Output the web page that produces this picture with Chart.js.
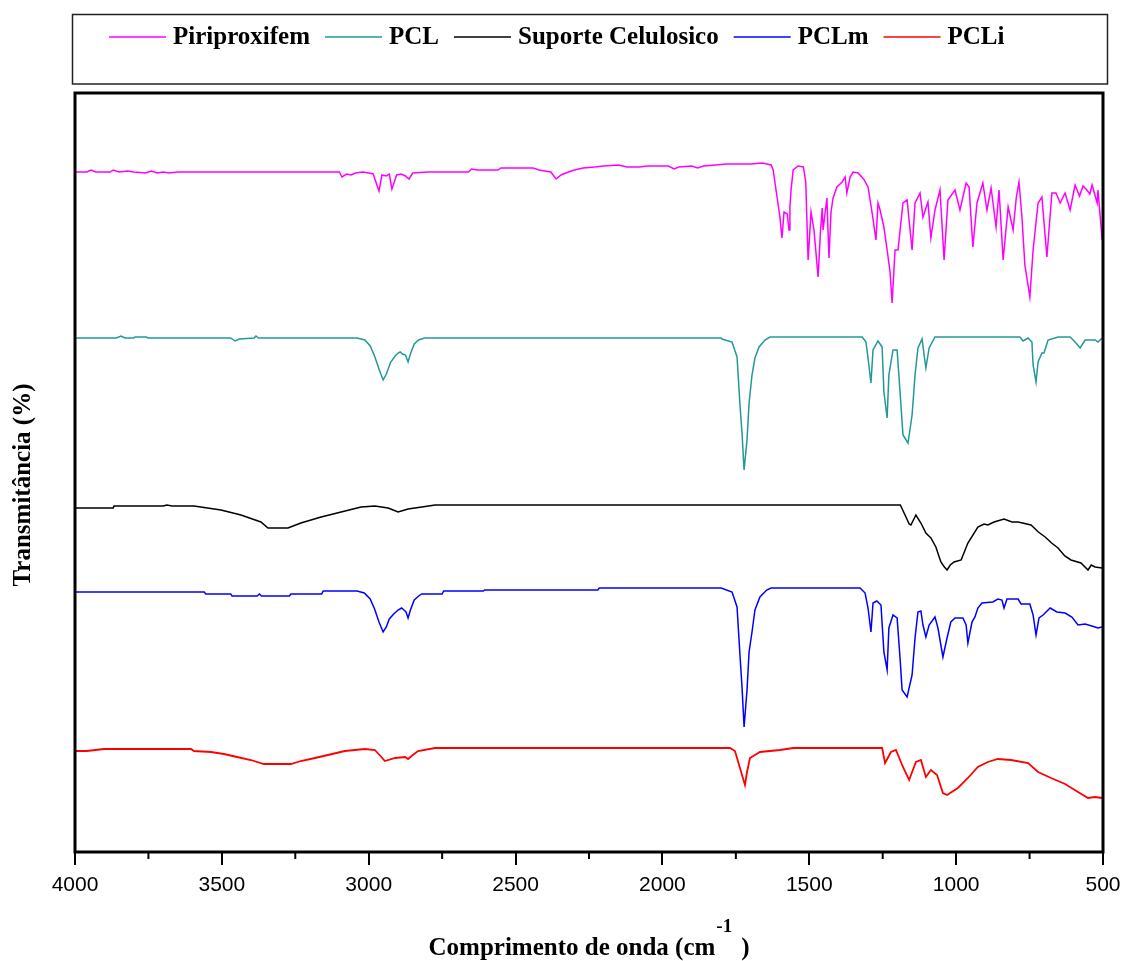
<!DOCTYPE html>
<html lang="pt">
<head>
<meta charset="UTF-8">
<title>Espectros FTIR</title>
<script src="https://cdn.jsdelivr.net/npm/chart.js"></script>
<style>
    body { margin: 0; background: #fff; }
    #wrap { width: 1125px; height: 961px; }
</style>
</head>
<body>
<div id="wrap"><canvas id="ftir" width="1125" height="961"></canvas></div>
<script>
// Wavenumber (cm-1) and transmittance (offset, arbitrary units) for each spectrum
const piriWn = [4000,3960,3945,3930,3880,3870,3850,3820,3800,3760,3740,3720,3700,3680,3650,3100,3091,3075,3060,3045,3020,3000,2985,2965,2955,2940,2930,2921,2905,2890,2875,2863,2850,2800,2700,2660,2650,2630,2560,2550,2440,2420,2380,2362,2345,2320,2300,2270,2230,2200,2150,2120,2080,2050,1980,1960,1945,1900,1880,1860,1820,1780,1740,1700,1660,1630,1623,1600,1593,1586,1575,1569,1566,1562,1555,1538,1520,1512,1504,1494,1484,1470,1462,1456,1453,1440,1433,1426,1419,1406,1388,1378,1372,1361,1351,1334,1315,1300,1286,1273,1266,1259,1246,1235,1225,1218,1208,1198,1181,1167,1150,1140,1123,1113,1096,1086,1072,1055,1041,1028,1004,987,966,956,943,929,909,895,881,864,854,840,823,806,795,786,776,766,749,738,721,708,691,674,660,646,629,612,595,580,568,555,545,537,520,517,503,500];
const piriT = [68.0,68.0,68.2,68.0,68.0,68.2,68.0,68.1,68.0,67.9,68.1,67.9,68.0,67.9,68.0,68.0,67.5,67.8,67.7,67.9,68.0,67.9,67.8,66.1,67.7,67.6,67.8,66.3,67.7,67.8,67.6,67.3,67.9,68.0,68.0,68.0,68.3,68.2,68.2,68.4,68.4,68.2,68.0,67.3,67.7,68.0,68.2,68.4,68.5,68.6,68.7,68.5,68.5,68.6,68.6,68.3,68.5,68.6,68.4,68.6,68.7,68.8,68.8,68.8,68.9,68.7,68.2,63.5,61.4,64.0,63.8,62.2,64.5,66.2,68.2,68.6,68.5,67.0,59.2,64.0,62.2,57.5,62.0,64.4,62.2,65.4,59.4,64.0,65.4,66.5,67.0,67.5,65.9,67.5,68.0,67.9,67.3,66.5,63.9,61.2,64.9,64.2,62.5,60.2,58.0,54.9,60.2,60.2,64.9,65.2,60.2,64.9,65.9,63.5,65.0,61.4,64.2,66.2,59.2,65.2,66.2,64.2,66.9,66.5,60.5,64.9,66.9,64.2,66.4,62.5,66.2,59.2,64.5,62.2,65.5,67.0,63.5,58.7,55.5,60.2,64.9,65.5,59.5,65.9,65.9,64.9,65.9,64.2,66.7,65.6,66.6,66.2,65.8,66.7,64.9,66.2,61.2,62.0];

const pclWn = [4000,3860,3843,3830,3800,3796,3758,3750,3470,3455,3440,3390,3384,3375,3040,3013,2995,2980,2965,2951,2940,2925,2910,2900,2893,2885,2875,2866,2858,2845,2830,2810,1800,1797,1763,1746,1736,1729,1722,1712,1705,1695,1685,1671,1651,1634,1320,1307,1300,1290,1283,1266,1252,1246,1235,1229,1215,1201,1191,1181,1164,1150,1140,1130,1116,1109,1103,1092,1072,783,772,755,742,738,728,721,708,701,687,653,612,595,578,561,527,517,503,500];
const pclT = [51.4,51.4,51.6,51.4,51.4,51.5,51.5,51.4,51.4,51.1,51.3,51.4,51.6,51.4,51.4,51.2,50.6,49.6,48.3,47.2,47.8,49.0,49.6,49.9,50.0,49.8,49.7,49.0,49.8,50.8,51.2,51.4,51.4,51.3,51.0,49.5,44.7,41.9,38.2,41.2,44.9,47.7,49.4,50.5,51.2,51.5,51.5,51.0,49.4,46.9,50.2,51.1,50.5,46.0,43.4,47.7,50.2,50.2,46.0,41.7,40.9,43.7,47.7,50.4,51.3,49.7,48.4,50.4,51.5,51.5,51.1,51.4,51.0,48.7,47.0,49.0,49.9,49.9,51.2,51.5,51.5,51.0,50.4,51.2,51.2,51.0,51.4,51.4];

const celWn = [4000,3870,3867,3700,3687,3670,3595,3503,3435,3367,3343,3275,3231,3162,3094,3026,2979,2934,2900,2866,2819,2774,1190,1174,1160,1154,1137,1120,1103,1086,1069,1052,1040,1031,1020,1007,983,960,926,905,892,871,837,810,789,745,720,697,675,653,630,609,575,551,540,527,503,500];
const celT = [34.4,34.4,34.6,34.6,34.7,34.6,34.6,34.2,33.7,33.0,32.4,32.4,32.9,33.5,34.0,34.5,34.6,34.4,34.0,34.3,34.5,34.7,34.7,33.7,32.8,32.7,33.7,32.9,31.9,31.4,30.5,29.0,28.5,28.2,28.7,29.0,29.2,30.9,32.5,32.8,32.7,33.0,33.3,33.0,33.0,32.7,32.0,31.5,30.9,30.4,29.6,29.2,28.9,28.2,28.7,28.5,28.4,28.4];

const pclmWn = [4000,3560,3555,3470,3465,3380,3372,3365,3270,3265,3160,3155,3040,3015,2995,2980,2965,2951,2940,2930,2915,2900,2888,2880,2873,2866,2858,2845,2830,2820,2750,2745,2610,2605,2220,2215,1800,1763,1746,1736,1729,1722,1712,1705,1695,1685,1668,1645,1630,1327,1310,1300,1290,1283,1270,1256,1246,1235,1229,1215,1201,1191,1184,1167,1150,1140,1130,1120,1113,1103,1092,1072,1062,1045,1031,1018,1004,977,966,960,946,936,926,912,875,858,844,837,827,789,779,749,738,728,718,704,680,657,629,606,585,561,527,517,503,500];
const pclmT = [26.0,26.0,25.8,25.8,25.6,25.6,25.8,25.6,25.6,25.8,25.8,26.1,26.1,25.9,25.3,24.3,23.0,22.0,22.5,23.3,23.8,24.2,24.4,24.2,24.0,23.4,24.2,25.2,25.6,25.8,25.8,26.1,26.1,26.2,26.2,26.4,26.4,26.0,24.5,19.7,16.5,12.5,16.2,20.0,22.0,24.2,25.5,26.2,26.4,26.4,25.9,24.4,22.0,24.9,25.1,24.7,20.0,18.2,22.4,23.7,23.4,19.4,16.2,15.5,17.7,21.4,24.0,24.1,22.7,21.5,22.7,23.5,22.4,19.5,21.4,23.0,23.4,23.4,22.7,20.9,23.0,23.5,24.4,24.9,25.0,25.3,25.2,24.4,25.3,25.3,24.8,24.8,23.7,21.7,23.4,23.7,24.4,24.0,23.9,23.5,22.7,22.8,22.5,22.4,22.5,22.5];

const pcliWn = [4000,3960,3901,3605,3595,3537,3493,3448,3401,3357,3265,3231,3183,3139,3081,3013,2979,2960,2945,2910,2876,2866,2850,2832,2774,1770,1753,1736,1719,1712,1702,1668,1600,1555,1252,1242,1222,1205,1181,1160,1137,1120,1103,1086,1065,1045,1031,994,960,926,892,858,813,755,721,677,629,585,551,527,503,500];
const pcliT = [10.1,10.1,10.3,10.3,10.1,10.0,9.8,9.5,9.2,8.8,8.8,9.1,9.4,9.7,10.1,10.3,10.2,9.6,9.1,9.4,9.5,9.3,9.7,10.1,10.4,10.4,10.1,8.4,6.7,8.0,9.4,10.0,10.2,10.4,10.4,8.9,10.0,10.2,8.5,7.2,9.0,9.2,7.5,8.2,7.7,5.9,5.7,6.4,7.4,8.5,9.0,9.3,9.2,8.9,8.0,7.4,6.8,6.0,5.4,5.5,5.4,5.4];

const seriesNames = ['Piriproxifem', 'PCL', 'Suporte Celulosico', 'PCLm', 'PCLi'];
const seriesColors = ['#ff00ff', '#1f9a97', '#000000', '#0000ff', '#ff0000'];
const xMajor = [4000, 3500, 3000, 2500, 2000, 1500, 1000, 500];

const serif = '"Liberation Serif", "Times New Roman", serif';

function toPoints(wn, t) {
    return wn.map((w, i) => ({ x: w, y: t[i] }));
}

const spectra = [[piriWn, piriT], [pclWn, pclT], [celWn, celT], [pclmWn, pclmT], [pcliWn, pcliT]];

const datasets = spectra.map((s, i) => ({
    label: seriesNames[i],
    data: toPoints(s[0], s[1]),
    borderColor: seriesColors[i],
    borderWidth: i === 4 ? 1.8 : 1.5,
    pointRadius: 0,
    fill: false,
    tension: 0
}));

// frame, minor ticks, axis titles and the boxed legend
const decor = {
    id: 'decor',
    afterDraw(chart) {
        const ctx = chart.ctx;
        const a = chart.chartArea;
        const x = chart.scales.x;
        ctx.save();

        ctx.strokeStyle = '#000';
        ctx.lineWidth = 2;
        for (let i = 0; i < xMajor.length - 1; i++) {
            const px = x.getPixelForValue((xMajor[i] + xMajor[i + 1]) / 2);
            ctx.beginPath();
            ctx.moveTo(px, a.bottom);
            ctx.lineTo(px, a.bottom + 7);
            ctx.stroke();
        }

        ctx.lineWidth = 3;
        ctx.strokeRect(a.left, a.top, a.right - a.left, a.bottom - a.top);

        // x title with superscript
        ctx.fillStyle = '#000';
        ctx.textBaseline = 'alphabetic';
        ctx.textAlign = 'left';
        const main = 'Comprimento de onda (cm';
        const big = 'bold 25px ' + serif;
        const small = 'bold 19px ' + serif;
        ctx.font = big;
        const w1 = ctx.measureText(main).width;
        const w3 = ctx.measureText(')').width;
        ctx.font = small;
        const w2 = ctx.measureText('-1').width;
        const total = w1 + 1 + w2 + 9 + w3;
        let tx = (a.left + a.right) / 2 - total / 2;
        ctx.font = big;
        ctx.fillText(main, tx, 955);
        ctx.font = small;
        ctx.fillText('-1', tx + w1 + 1, 932);
        ctx.font = big;
        ctx.fillText(')', tx + w1 + 1 + w2 + 9, 955);

        // y title
        ctx.save();
        ctx.translate(30, 485);
        ctx.rotate(-Math.PI / 2);
        ctx.textAlign = 'center';
        ctx.font = big;
        ctx.fillText('Transmitância (%)', 0, 0);
        ctx.restore();

        // legend
        ctx.lineWidth = 1.5;
        ctx.strokeStyle = '#222';
        ctx.strokeRect(72.5, 14.5, 1035, 69.5);
        ctx.font = big;
        let lx = 109;
        chart.data.datasets.forEach(ds => {
            ctx.strokeStyle = ds.borderColor;
            ctx.lineWidth = 1.5;
            ctx.beginPath();
            ctx.moveTo(lx, 37);
            ctx.lineTo(lx + 57, 37);
            ctx.stroke();
            ctx.fillStyle = '#000';
            ctx.fillText(ds.label, lx + 64, 44);
            lx += 64 + ctx.measureText(ds.label).width + 15;
        });

        ctx.restore();
    }
};

new Chart(document.getElementById('ftir'), {
    type: 'line',
    data: { datasets: datasets },
    options: {
        responsive: false,
        animation: false,
        layout: { padding: { left: 75, right: 22, top: 93, bottom: 0 } },
        plugins: {
            legend: { display: false },
            tooltip: { enabled: false }
        },
        scales: {
            x: {
                type: 'linear',
                reverse: true,
                min: 500,
                max: 4000,
                afterFit: s => {
                    s.height = 109;
                    s.paddingLeft = 0;
                    s.paddingRight = 0;
                },
                border: { display: false },
                grid: { drawOnChartArea: false, drawTicks: true, tickLength: 13, color: '#000', lineWidth: 2 },
                ticks: {
                    stepSize: 500,
                    autoSkip: false,
                    maxRotation: 0,
                    padding: 8,
                    color: '#000',
                    font: { family: '"Liberation Sans", Arial, sans-serif', size: 21 },
                    callback: v => String(v)
                }
            },
            y: { display: false, min: 0, max: 75.9 }
        }
    },
    plugins: [decor]
});
</script>
</body>
</html>
